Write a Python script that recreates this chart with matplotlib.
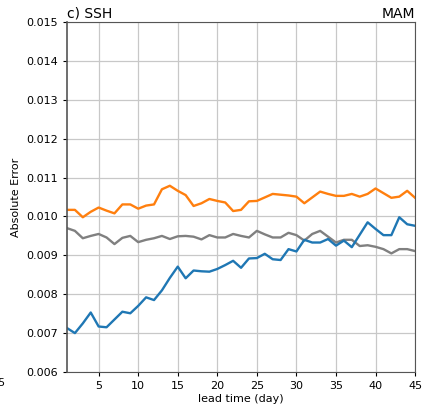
import matplotlib
matplotlib.use("Agg")
import matplotlib.pyplot as plt
import numpy as np

# --- data ---
days = np.arange(1, 46)

orange = [0.01017, 0.01017, 0.00998, 0.01012, 0.01023, 0.01015, 0.01008, 0.01031, 0.01031, 0.01020,
          0.01028, 0.01031, 0.01070, 0.01079, 0.01066, 0.01055, 0.01027, 0.01034, 0.01045, 0.01040,
          0.01036, 0.01014, 0.01017, 0.01039, 0.01040, 0.01049, 0.01058, 0.01056, 0.01054, 0.01051,
          0.01034, 0.01049, 0.01064, 0.01058, 0.01053, 0.01053, 0.01058, 0.01051, 0.01058, 0.01072,
          0.01060, 0.01048, 0.01051, 0.01066, 0.01048]

gray = [0.00970, 0.00963, 0.00944, 0.00950, 0.00955, 0.00946, 0.00929, 0.00945, 0.00950, 0.00934,
        0.00940, 0.00944, 0.00950, 0.00942, 0.00949, 0.00950, 0.00948, 0.00941, 0.00952, 0.00946,
        0.00946, 0.00955, 0.00950, 0.00946, 0.00963, 0.00954, 0.00946, 0.00946, 0.00958, 0.00952,
        0.00938, 0.00955, 0.00963, 0.00948, 0.00933, 0.00940, 0.00940, 0.00924, 0.00926, 0.00922,
        0.00916, 0.00905, 0.00916, 0.00916, 0.00911]

blue = [0.00713, 0.00700, 0.00725, 0.00753, 0.00717, 0.00715, 0.00735, 0.00755, 0.00751, 0.00770,
        0.00792, 0.00785, 0.00810, 0.00842, 0.00871, 0.00841, 0.00861, 0.00859, 0.00858, 0.00865,
        0.00875, 0.00886, 0.00868, 0.00892, 0.00893, 0.00904, 0.00890, 0.00888, 0.00916, 0.00910,
        0.00940, 0.00933, 0.00933, 0.00942, 0.00925, 0.00938, 0.00921, 0.00953, 0.00985, 0.00968,
        0.00952, 0.00952, 0.00998, 0.00980, 0.00976]

xticks = [5, 10, 15, 20, 25, 30, 35, 40, 45]
yticks = [0.006, 0.007, 0.008, 0.009, 0.010, 0.011, 0.012, 0.013, 0.014, 0.015]

# --- figure ---
fig = plt.figure(figsize=(4.24, 4.09), dpi=100)
ax = fig.add_axes([0.158, 0.0905, 0.821, 0.8555])

ax.plot(days, orange, color='#ff7f0e', lw=1.7)
ax.plot(days, gray, color='#808080', lw=1.7)
ax.plot(days, blue, color='#1f77b4', lw=1.7)

ax.set_xlim(1, 45)
ax.set_ylim(0.006, 0.015)
ax.set_xticks(xticks)
ax.set_yticks(yticks)
ax.set_yticklabels([f"{v:.3f}" for v in yticks])
ax.tick_params(labelsize=8, length=3, width=0.8)
ax.grid(True, color='#c8c8c8', lw=0.9)
ax.set_axisbelow(True)
for s in ax.spines.values():
    s.set_color('#555555')
ax.spines['left'].set_linewidth(1.2)

ax.set_xlabel('lead time (day)', fontsize=8, labelpad=2)
ax.set_ylabel('Absolute Error', fontsize=8)
ax.set_title('c) SSH', loc='left', fontsize=10, pad=3)
ax.set_title('MAM', loc='right', fontsize=10, pad=3)

# tick label of the neighbouring panel, cut by the image edge
fig.text(0.013, 0.064, '45', ha='right', va='center', fontsize=8)

fig.savefig('out.png', dpi=100)
